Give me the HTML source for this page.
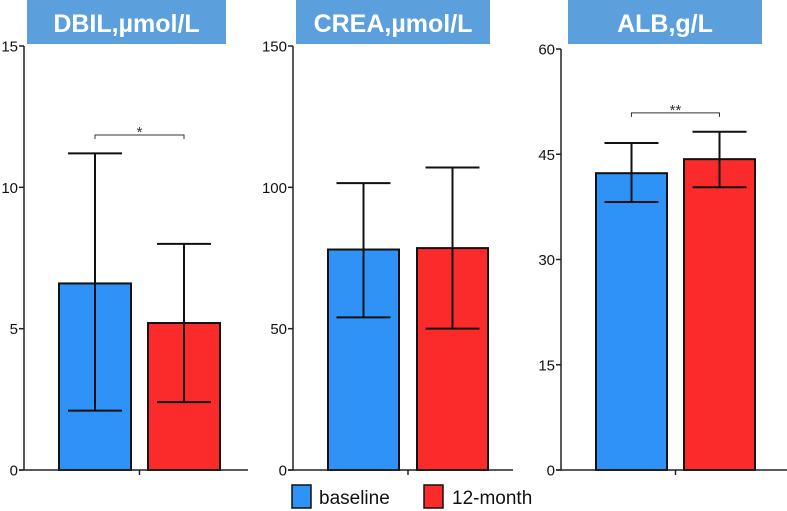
<!DOCTYPE html>
<html><head><meta charset="utf-8"><style>
body{margin:0;background:#fff;width:787px;height:511px;overflow:hidden}
svg{display:block;font-family:"Liberation Sans",Arial,sans-serif}
</style></head><body>
<svg id="c" width="787" height="511" viewBox="0 0 787 511"></svg>
<script>
const panelTitles = ["DBIL,\u00b5mol/L","CREA,\u00b5mol/L","ALB,g/L"];
const yMaxes = [15,150,60];
const tickLabels = [[0,5,10,15],[0,50,100,150],[0,15,30,45,60]];
const baselineMeans = [6.6,78,42.3];
const baselineLow = [2.1,54,38.2];
const baselineHigh = [11.2,101.5,46.6];
const monthMeans = [5.2,78.5,44.3];
const monthLow = [2.4,50,40.3];
const monthHigh = [8.0,107,48.2];
const sigLabels = ["*","","**"];
const sigLevels = [11.85,null,50.9];

const NS="http://www.w3.org/2000/svg";
const svg=document.getElementById('c');
function mk(t,a,p){const e=document.createElementNS(NS,t);for(const k in a)e.setAttribute(k,a[k]);(p||svg).appendChild(e);return e;}
const layout=[
 {ax:24,end:248,top:46,hx:27,hw:199,b1:59,b2:148,bw:72},
 {ax:293,end:513,top:46,hx:296,hw:194,b1:328,b2:417,bw:71},
 {ax:561,end:787,top:49,hx:568,hw:194,b1:596,b2:684,bw:71}
];
const y0=470;
panelTitles.forEach((title,i)=>{
 const L=layout[i];
 const g=mk('g',{});
 
 
 const y=v=>y0-(v/yMaxes[i])*(y0-L.top);
 const h=mk('rect',{x:L.hx,y:0,width:L.hw,height:44,fill:'#5b9fdc'},g);
 
 
 const t=mk('text',{x:L.hx+L.hw/2,y:32,'text-anchor':'middle','font-size':25,'font-weight':'bold',fill:'#fff'},g);
 t.textContent=title;
 
 
 [[baselineMeans,baselineLow,baselineHigh,L.b1,'#2e92f7'],[monthMeans,monthLow,monthHigh,L.b2,'#fb2b2b']].forEach((s,j)=>{
  const r=mk('rect',{x:s[3],y:y(s[0][i]),width:L.bw,height:y0-y(s[0][i]),fill:s[4],stroke:'#111','stroke-width':2},g);
  
  
  const cx=s[3]+L.bw/2;
  const e=mk('path',{d:`M${cx},${y(s[1][i])}V${y(s[2][i])}M${cx-27},${y(s[1][i])}H${cx+27}M${cx-27},${y(s[2][i])}H${cx+27}`,stroke:'#111','stroke-width':2,fill:'none'},g);
  
  
 });
 const ya=mk('path',{d:`M${L.ax},${L.top}V${y0}M${L.ax-5},${y0}H${L.end}M${(L.b1+L.b2+L.bw)/2},${y0}v5`,stroke:'#222','stroke-width':1.5,fill:'none'},g);
 
 
 tickLabels[i].forEach(v=>{
  mk('line',{x1:L.ax-5,x2:L.ax,y1:y(v),y2:y(v),stroke:'#222','stroke-width':1.5},g);
  const tl=mk('text',{x:L.ax-6,y:y(v)+5.5,'text-anchor':'end','font-size':15,fill:'#111'},g);
  tl.textContent=v;
  
  
 });
 if(sigLevels[i]!==null){
  const c1=L.b1+L.bw/2,c2=L.b2+L.bw/2,sy=y(sigLevels[i]);
  const b=mk('path',{d:`M${c1},${sy+4}V${sy}H${c2}V${sy+4}`,stroke:'#333','stroke-width':1,fill:'none'},g);
  
  
  const st=mk('text',{x:(c1+c2)/2,y:sy+2,'text-anchor':'middle','font-size':15,fill:'#333'},g);
  st.textContent=sigLabels[i];
  
  
 }
});
</script>
<svg style="position:absolute;left:0;top:0" width="787" height="511">
 <g>
  <rect x="292" y="485" width="19" height="23" fill="#2e92f7" stroke="#111" stroke-width="1.5"/>
  <text x="319" y="504" font-size="19" fill="#111" font-family="Liberation Sans, Arial, sans-serif">baseline</text>
 </g>
 <g>
  <rect x="424" y="485" width="19" height="23" fill="#fb2b2b" stroke="#111" stroke-width="1.5"/>
  <text x="452" y="504" font-size="19" fill="#111" font-family="Liberation Sans, Arial, sans-serif">12-month</text>
 </g>
</svg>
</body></html>
